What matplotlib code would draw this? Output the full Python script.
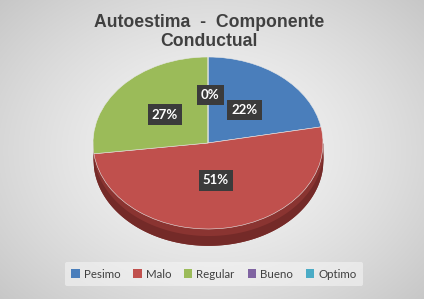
import numpy as np
import matplotlib
matplotlib.use("Agg")
import matplotlib.pyplot as plt
from matplotlib.patches import Rectangle

categories = ["Pesimo", "Malo", "Regular", "Bueno", "Optimo"]
values = [22, 51, 27, 0, 0]
colors = ["#4a7ebb", "#c0504d", "#9bbb59", "#8064a2", "#4bacc6"]
title = "Autoestima  -  Componente\nConductual"

W, H = 430, 299
fig = plt.figure(figsize=(W / 100, H / 100), dpi=100)
fig.patch.set_facecolor("white")

# background radial gradient
bg = fig.add_axes([0, 0, 424 / W, 1])
bg.set_axis_off()
yy, xx = np.mgrid[0:H, 0:424]
r = np.sqrt(((xx - 212) / 260.0) ** 2 + ((yy - 150) / 200.0) ** 2)
val = np.clip(0.965 - 0.16 * r ** 1.4, 0, 1)
img = np.dstack([val, val, val])
bg.imshow(img, aspect="auto", extent=[0, 1, 0, 1], origin="upper")
bg.set_xlim(0, 1)
bg.set_ylim(0, 1)

# pie axes (elliptical)
cx, cy, rx, ry = 208, 143, 115, 86
x0, x1, y0, y1 = -1.05, 1.05, -1.25, 1.05
left = (cx + x0 * rx) / W
width = (x1 - x0) * rx / W
bottom = (H - (cy - y0 * ry)) / H
height = (y1 - y0) * ry / H
ax = fig.add_axes([left, bottom, width, height])

wedges, _ = ax.pie(values, colors=colors, startangle=90, counterclock=False,
                   radius=1.0, center=(0, 0),
                   wedgeprops=dict(linewidth=0.4, edgecolor="#e8e8e8"))
for w in wedges:
    w.set_zorder(2)
ax.set_aspect("auto")
ax.set_xlim(x0, x1)
ax.set_ylim(y0, y1)
ax.set_axis_off()

# side band (3D depth)
depth = 0.19
xs = np.linspace(-1, 1, 400)
lower = -np.sqrt(np.clip(1 - xs ** 2, 0, 1))
ax.fill_between(xs, lower - depth, 0, color="#8a3431", zorder=1, lw=0)
ax.fill_between(xs, lower - depth, lower - depth * 0.4, color="#742a28", zorder=1, lw=0)

# data labels
label_r = [0.5, 0.44, 0.5, 0.55, 0.55]
cum = 0
total = sum(values)
for i, (v, lr) in enumerate(zip(values, label_r)):
    mid = 90 - (cum + v / 2) / total * 360
    cum += v
    if v == 0 and i != 3:
        continue
    lx = lr * np.cos(np.radians(mid))
    ly = lr * np.sin(np.radians(mid))
    if v == 0:
        lx, ly = 0.02, 0.56
    ax.text(lx, ly, f"{v}%", ha="center", va="center", color="white",
            fontsize=9.5, fontweight="bold", family="Lato", zorder=5,
            bbox=dict(boxstyle="square,pad=0.32", fc="#3b3b3b", ec="none"))

# title
fig.text(209 / W, 1 - 32 / H, title, ha="center", va="center",
         fontsize=12.7, fontweight="bold", color="#404040",
         family="Liberation Sans", linespacing=1.1)

# legend
handles = [Rectangle((0, 0), 1, 1, fc=c, ec="none") for c in colors]
leg = fig.legend(handles, categories, loc="center", bbox_to_anchor=(214 / W, 1 - 274 / H),
                 ncol=5, frameon=True, handlelength=0.7, handleheight=0.7,
                 handletextpad=0.35, columnspacing=1.15, borderpad=0.6,
                 prop=dict(family="Lato", size=8.3))
leg.get_frame().set_facecolor("#f4f4f4")
leg.get_frame().set_edgecolor("none")
leg.get_frame().set_alpha(0.6)
for t in leg.get_texts():
    t.set_color("#404040")

fig.savefig("out.png", dpi=100)
